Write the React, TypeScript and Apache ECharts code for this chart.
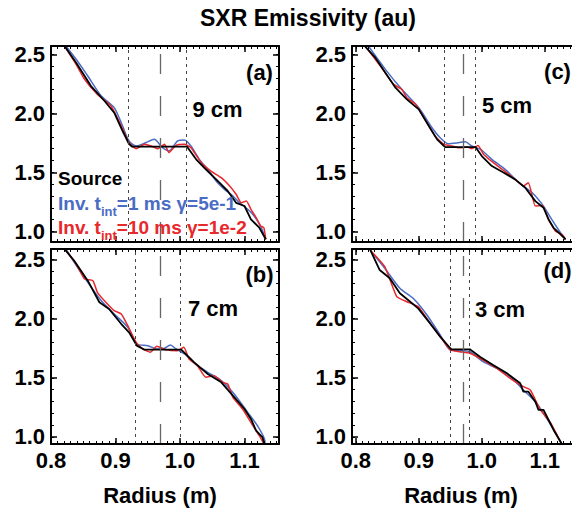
import React, { useEffect, useRef } from "react";
import * as echarts from "echarts";

// ---------------- data ----------------
const TITLE = "SXR Emissivity (au)";
const X_NAME = "Radius (m)";
const PANEL_TAGS = ["(a)", "(b)", "(c)", "(d)"];
const WIDTH_TAGS = ["9 cm", "7 cm", "5 cm", "3 cm"];
const ISLAND_CENTER = 0.967;
const ISLAND_HALF_WIDTHS = [0.045, 0.035, 0.025, 0.015];
const X_TICKS = [0.8, 0.9, 1.0, 1.1];
const Y_TICKS = [1.0, 1.5, 2.0, 2.5];
const LEGEND_SOURCE = "Source";
const LEGEND_INV1 = ["Inv. t", "int", "=1 ms γ=5e-1"];
const LEGEND_INV10 = ["Inv. t", "int", "=10 ms γ=1e-2"];

// panel (a) 9 cm
const SOURCE_A = [[0.821,2.57],[0.839,2.429],[0.862,2.231],[0.883,2.104],[0.898,2.005],[0.911,1.85],[0.921,1.74],[0.926,1.717],[1.011,1.717],[1.025,1.61],[1.04,1.526],[1.056,1.441],[1.074,1.342],[1.087,1.242],[1.1,1.215],[1.11,1.102],[1.123,1.031],[1.133,0.933]];
const INV1_A = [[0.823,2.57],[0.841,2.443],[0.857,2.316],[0.878,2.146],[0.898,2.048],[0.911,1.892],[0.921,1.766],[0.932,1.723],[0.947,1.751],[0.96,1.78],[0.973,1.709],[0.983,1.681],[0.996,1.765],[1.007,1.774],[1.017,1.723],[1.03,1.61],[1.043,1.526],[1.058,1.413],[1.069,1.356],[1.082,1.3],[1.092,1.243],[1.105,1.187],[1.115,1.13],[1.126,1.031],[1.133,0.933]];
const INV10_A = [[0.821,2.57],[0.839,2.415],[0.852,2.288],[0.872,2.16],[0.893,2.062],[0.909,1.892],[0.921,1.751],[0.932,1.7],[0.945,1.737],[0.955,1.723],[0.965,1.7],[0.976,1.737],[0.983,1.667],[0.994,1.729],[1.007,1.737],[1.017,1.709],[1.033,1.582],[1.048,1.511],[1.064,1.455],[1.077,1.384],[1.087,1.314],[1.095,1.243],[1.103,1.257],[1.11,1.187],[1.118,1.116],[1.125,1.046],[1.13,1.031],[1.133,0.933]];

// panel (b) 7 cm
const SOURCE_B = [[0.821,2.59],[0.836,2.491],[0.857,2.322],[0.875,2.139],[0.89,2.082],[0.909,1.955],[0.921,1.885],[0.933,1.772],[0.945,1.738],[1.002,1.738],[1.022,1.631],[1.043,1.532],[1.064,1.462],[1.082,1.349],[1.1,1.236],[1.11,1.152],[1.118,1.053],[1.128,0.997],[1.131,0.932]];
const INV1_B = [[0.823,2.59],[0.836,2.477],[0.857,2.308],[0.878,2.153],[0.898,2.04],[0.919,1.927],[0.933,1.786],[0.95,1.772],[0.965,1.744],[0.976,1.75],[0.985,1.778],[0.994,1.744],[1.007,1.702],[1.027,1.603],[1.043,1.547],[1.064,1.476],[1.084,1.363],[1.105,1.208],[1.12,1.095],[1.131,0.983],[1.132,0.932]];
const INV10_B = [[0.821,2.59],[0.839,2.463],[0.852,2.336],[0.865,2.322],[0.872,2.223],[0.885,2.139],[0.898,2.068],[0.909,2.04],[0.919,1.941],[0.932,1.8],[0.942,1.744],[0.954,1.716],[0.964,1.767],[0.978,1.738],[0.996,1.73],[1.006,1.758],[1.014,1.659],[1.027,1.603],[1.04,1.504],[1.053,1.518],[1.066,1.462],[1.074,1.448],[1.082,1.335],[1.097,1.236],[1.113,1.095],[1.123,1.011],[1.131,0.932]];

// panel (c) 5 cm
const SOURCE_C = [[0.814,2.57],[0.831,2.471],[0.847,2.344],[0.863,2.217],[0.881,2.118],[0.9,2.033],[0.916,1.892],[0.929,1.779],[0.94,1.723],[0.942,1.714],[0.99,1.714],[1.0,1.638],[1.016,1.553],[1.035,1.497],[1.053,1.44],[1.069,1.37],[1.085,1.256],[1.098,1.2],[1.106,1.101],[1.114,1.03],[1.125,0.974],[1.133,0.932]];
const INV1_C = [[0.82,2.57],[0.847,2.372],[0.873,2.203],[0.9,2.047],[0.921,1.878],[0.934,1.793],[0.947,1.742],[0.963,1.751],[0.974,1.759],[0.984,1.723],[0.998,1.694],[1.016,1.61],[1.037,1.525],[1.059,1.412],[1.08,1.327],[1.098,1.214],[1.111,1.101],[1.125,0.988],[1.133,0.932]];
const INV10_C = [[0.815,2.57],[0.839,2.4],[0.86,2.245],[0.873,2.203],[0.881,2.132],[0.895,2.076],[0.905,1.991],[0.926,1.807],[0.94,1.737],[0.953,1.723],[0.963,1.708],[0.977,1.714],[0.984,1.7],[0.994,1.728],[1.003,1.652],[1.022,1.567],[1.043,1.482],[1.059,1.412],[1.066,1.384],[1.074,1.412],[1.085,1.214],[1.096,1.22],[1.106,1.101],[1.117,1.002],[1.127,0.974],[1.133,0.932]];

// panel (d) 3 cm
const SOURCE_D = [[0.823,2.582],[0.838,2.412],[0.854,2.342],[0.87,2.215],[0.883,2.159],[0.899,2.088],[0.918,1.961],[0.934,1.848],[0.95,1.75],[0.952,1.741],[0.981,1.741],[0.997,1.679],[1.018,1.609],[1.04,1.538],[1.061,1.454],[1.066,1.383],[1.074,1.383],[1.085,1.298],[1.09,1.228],[1.098,1.228],[1.106,1.143],[1.114,1.059],[1.127,0.94]];
const INV1_D = [[0.823,2.58],[0.846,2.427],[0.87,2.258],[0.891,2.173],[0.913,2.032],[0.934,1.862],[0.95,1.736],[0.965,1.73],[0.981,1.721],[1.002,1.637],[1.024,1.58],[1.045,1.51],[1.066,1.397],[1.087,1.285],[1.108,1.115],[1.127,0.94]];
const INV10_D = [[0.823,2.58],[0.846,2.44],[0.865,2.187],[0.881,2.144],[0.899,2.102],[0.918,1.961],[0.934,1.848],[0.95,1.736],[0.965,1.721],[0.981,1.708],[1.002,1.651],[1.024,1.58],[1.045,1.496],[1.066,1.425],[1.077,1.397],[1.093,1.228],[1.108,1.129],[1.127,0.94]];

const PANELS = [
  { src: SOURCE_A, inv1: INV1_A, inv10: INV10_A },
  { src: SOURCE_B, inv1: INV1_B, inv10: INV10_B },
  { src: SOURCE_C, inv1: INV1_C, inv10: INV10_C },
  { src: SOURCE_D, inv1: INV1_D, inv10: INV10_D },
];

// ---------------- layout / style ----------------
const LAYOUT = [
  { left: 51, top: 46, width: 228, height: 196, xMin: 0.8, xMax: 1.1535, yMin: 0.91, yMax: 2.57, showX: false },
  { left: 51, top: 249, width: 228, height: 195, xMin: 0.8, xMax: 1.1535, yMin: 0.94, yMax: 2.59, showX: true },
  { left: 352, top: 46, width: 227, height: 196, xMin: 0.794, xMax: 1.1543, yMin: 0.91, yMax: 2.57, showX: false },
  { left: 352, top: 249, width: 227, height: 195, xMin: 0.794, xMax: 1.1543, yMin: 0.94, yMax: 2.59, showX: true },
];
const TAG_POS = [[259.5, 72], [259.5, 274], [557.5, 71], [557.5, 270]];
const WIDTH_POS = [[217.5, 109], [213, 308], [507, 105], [500, 309]];
const XNAME_POS = [[160, 495], [461, 495]];

const FONT = '"Liberation Sans", Arial, Helvetica, sans-serif';
const BLUE = "#4a6cc4";
const RED = "#e8282b";

const X_MINOR = Array.from({ length: 36 }, (_, k) => +(0.8 + k * 0.01).toFixed(2));
const Y_MINOR = Array.from({ length: 16 }, (_, k) => +(1.0 + k * 0.1).toFixed(1));

function buildOption() {
  const xAxis: any[] = [];
  const yAxis: any[] = [];
  const series: any[] = [];
  const grid = LAYOUT.map((g) => ({
    left: g.left, top: g.top, width: g.width, height: g.height,
    containLabel: false, outerBoundsMode: "none",
  }));
  const labelStyle = { color: "#000", fontSize: 22, fontWeight: "bold", fontFamily: FONT };

  LAYOUT.forEach((g, i) => {
    const mk = (pos: string, major: boolean, showLabel: boolean, isX: boolean) => ({
      type: "value",
      gridIndex: i,
      position: pos,
      min: isX ? g.xMin : g.yMin,
      max: isX ? g.xMax : g.yMax,
      axisLine: { show: major, onZero: false, lineStyle: { color: "#000", width: 2 } },
      axisTick: {
        show: true, inside: true, length: major ? 6 : 3,
        customValues: major ? (isX ? X_TICKS : Y_TICKS) : (isX ? X_MINOR : Y_MINOR),
        lineStyle: { color: "#000", width: major ? 1.5 : 1 },
      },
      axisLabel: {
        show: showLabel,
        customValues: isX ? X_TICKS : Y_TICKS,
        formatter: (v: number) => v.toFixed(1),
        margin: isX ? 5 : 6,
        ...labelStyle,
      },
      splitLine: { show: false },
      minorTick: { show: false },
      z: major ? 5 : 4,
    });
    xAxis.push(mk("bottom", true, g.showX, true));
    xAxis.push(mk("top", true, false, true));
    xAxis.push(mk("bottom", false, false, true));
    xAxis.push(mk("top", false, false, true));
    yAxis.push(mk("left", true, true, false));
    yAxis.push(mk("right", true, false, false));
    yAxis.push(mk("left", false, false, false));
    yAxis.push(mk("right", false, false, false));

    const p = PANELS[i];
    const hw = ISLAND_HALF_WIDTHS[i];
    const base = { type: "line", xAxisIndex: 4 * i, yAxisIndex: 4 * i, showSymbol: false, symbol: "none", clip: true, silent: true };
    series.push({ ...base, name: "inv1", data: p.inv1, smooth: 0.25, lineStyle: { color: BLUE, width: 1.5 }, z: 2 });
    series.push({ ...base, name: "inv10", data: p.inv10, smooth: 0.15, lineStyle: { color: RED, width: 1.5 }, z: 3 });
    series.push({
      ...base, name: "source", data: p.src, smooth: false, lineStyle: { color: "#000", width: 1.8 }, z: 4,
      markLine: {
        silent: true, symbol: ["none", "none"], label: { show: false },
        data: [
          { xAxis: ISLAND_CENTER - hw, lineStyle: { type: [3, 4], color: "#444", width: 1 } },
          { xAxis: ISLAND_CENTER + hw, lineStyle: { type: [3, 4], color: "#444", width: 1 } },
          { xAxis: ISLAND_CENTER, lineStyle: { type: [20, 22], color: "#666", width: 1.3 } },
        ],
      },
    });
  });

  const text = (x: number, y: number, t: string, size: number, align = "center", fill = "#000") => ({
    type: "text", x, y, z: 100, silent: true,
    style: { text: t, fill, fontSize: size, fontWeight: "bold", fontFamily: FONT, align, verticalAlign: "middle" },
  });
  const richText = (x: number, y: number, parts: string[], color: string) => ({
    type: "text", x, y, z: 100, silent: true,
    style: {
      text: `{m|${parts[0]}}{s|${parts[1]}}{m|${parts[2]}}`,
      align: "left", verticalAlign: "middle",
      rich: {
        m: { fill: color, fontSize: 19, fontWeight: "bold", fontFamily: FONT, lineHeight: 20, verticalAlign: "top" },
        s: { fill: color, fontSize: 13, fontWeight: "bold", fontFamily: FONT, lineHeight: 13, verticalAlign: "top", padding: [11, 0, 0, 0] },
      },
    },
  });

  const graphic: any[] = [text(308, 18, TITLE, 23)];
  PANEL_TAGS.forEach((t, i) => graphic.push(text(TAG_POS[i][0], TAG_POS[i][1], t, 22)));
  WIDTH_TAGS.forEach((t, i) => graphic.push(text(WIDTH_POS[i][0], WIDTH_POS[i][1], t, 22)));
  XNAME_POS.forEach((p) => graphic.push(text(p[0], p[1], X_NAME, 22)));
  graphic.push(text(58, 178.5, LEGEND_SOURCE, 19, "left"));
  graphic.push(richText(58, 203.5, LEGEND_INV1, BLUE));
  graphic.push(richText(58, 227.5, LEGEND_INV10, RED));

  return { animation: false, backgroundColor: "#fff", grid, xAxis, yAxis, series, graphic };
}

export default function App() {
  const ref = useRef<HTMLDivElement>(null);
  useEffect(() => {
    if (!ref.current) return;
    const chart = echarts.init(ref.current, undefined, { renderer: "svg" });
    chart.setOption(buildOption() as any);
    return () => chart.dispose();
  }, []);
  return <div ref={ref} style={{ position: "absolute", left: 0, top: 0, width: 572, height: 508 }} />;
}
